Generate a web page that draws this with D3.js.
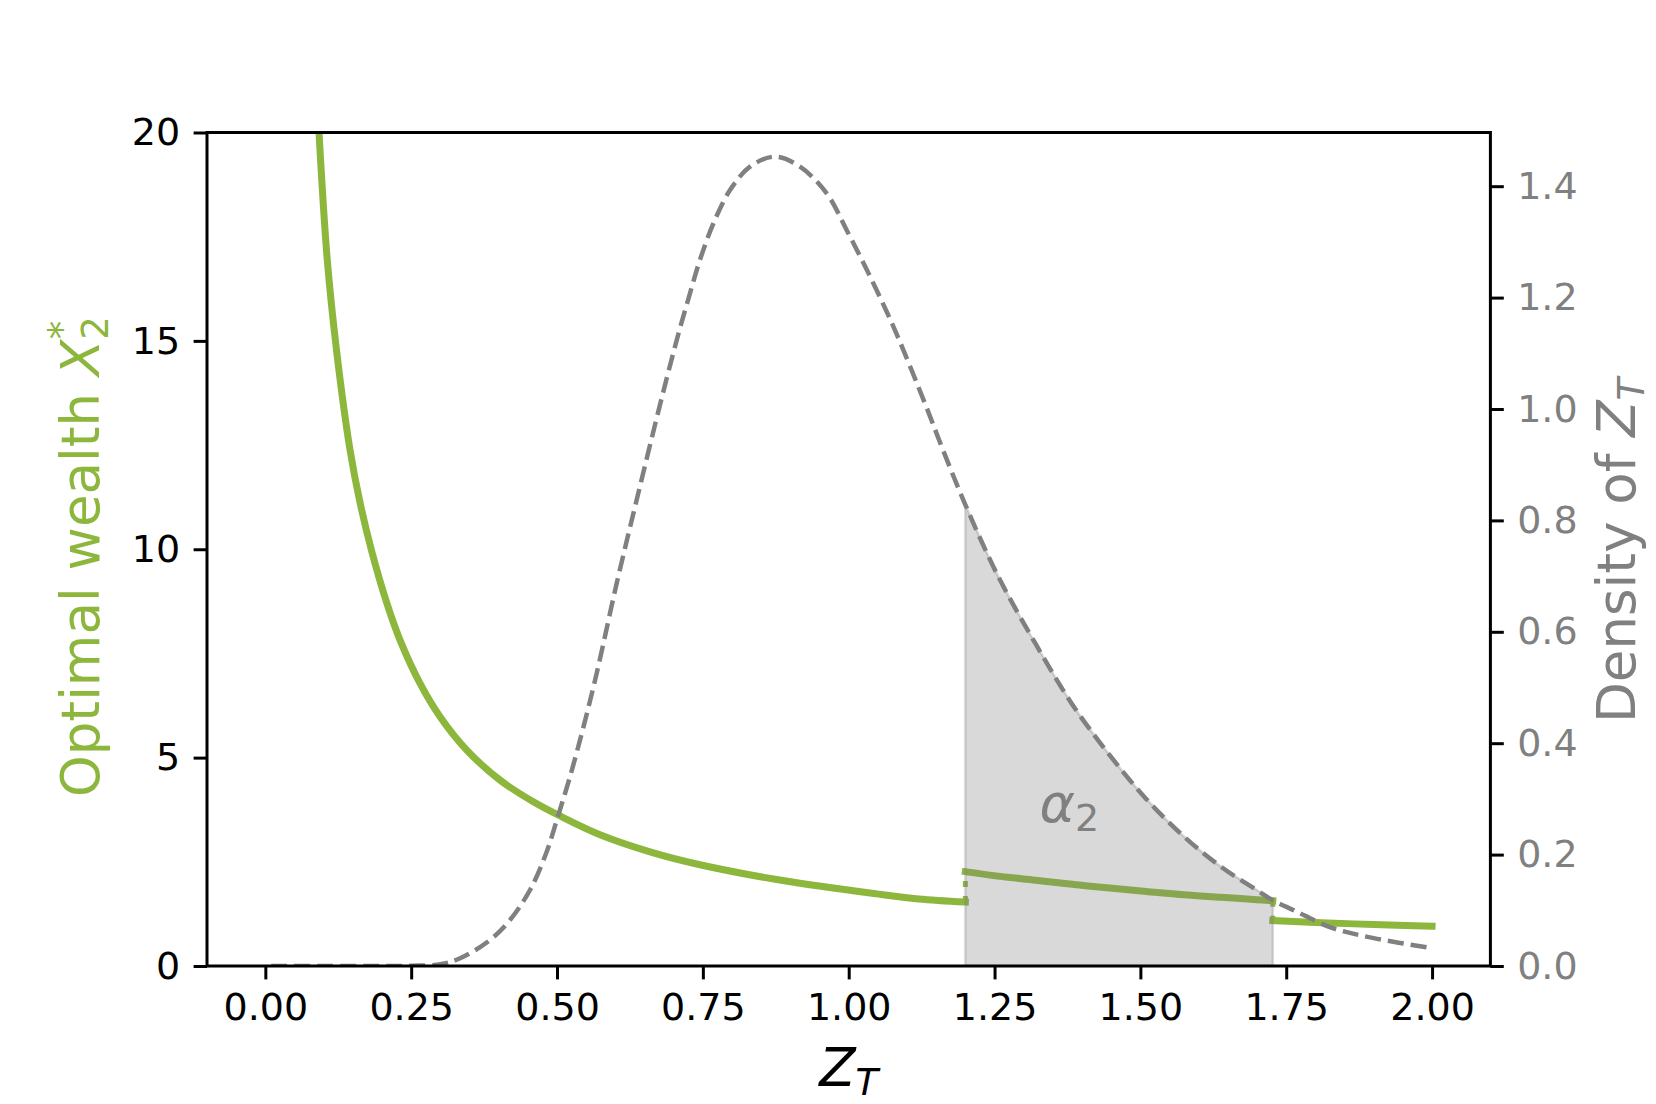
<!DOCTYPE html>
<html>
<head>
<meta charset="utf-8">
<script src="https://cdn.jsdelivr.net/npm/d3@7"></script>
<style>
  body { margin: 0; background: #fff; }
  text { font-family: "DejaVu Sans", sans-serif; }
</style>
</head>
<body>
<div id="chart"></div>
<script>
// optimal wealth X2* (left axis), three pieces with jumps at 1.2 and 1.727
var wealthZ1 = [0.092, 0.106, 0.122, 0.145, 0.1623, 0.1824, 0.208, 0.2309, 0.2652, 0.2995, 0.3452, 0.4023, 0.4594, 0.5051, 0.5737, 0.6594, 0.7451, 0.887, 1.048, 1.12, 1.2];
var wealthX1 = [20.0, 16.97, 14.78, 12.40, 11.12, 9.95, 8.72, 7.82, 6.78, 5.98, 5.18, 4.46, 3.94, 3.6, 3.15, 2.74, 2.43, 2.05, 1.73, 1.61, 1.535];
var wealthZ2 = [1.2, 1.26, 1.32, 1.383, 1.447, 1.51, 1.574, 1.637, 1.7, 1.727];
var wealthX2 = [2.265, 2.15, 2.06, 1.96, 1.87, 1.79, 1.71, 1.65, 1.59, 1.565];
var wealthZ3 = [1.727, 1.8, 1.9, 2.0];
var wealthX3 = [1.09, 1.045, 0.995, 0.955];

// density of Z_T (right axis)
var densityZ = [0.01, 0.1, 0.2, 0.25, 0.3, 0.3338, 0.3852, 0.4194, 0.4537, 0.4823, 0.5022, 0.5223, 0.545, 0.568, 0.6023, 0.6366, 0.68, 0.7084, 0.728, 0.7451, 0.768, 0.7966, 0.8308, 0.8737, 0.9165, 0.9623, 0.9966, 1.031, 1.065, 1.082, 1.13, 1.161, 1.2, 1.256, 1.32, 1.383, 1.447, 1.51, 1.574, 1.637, 1.7, 1.727, 1.764, 1.827, 1.9, 2.0];
var densityY = [0, 0, 0, 0.0005, 0.003, 0.0138, 0.0467, 0.0826, 0.1364, 0.205, 0.271, 0.34, 0.428, 0.5255, 0.687, 0.837, 1.022, 1.136, 1.208, 1.268, 1.333, 1.393, 1.435, 1.453, 1.435, 1.387, 1.321, 1.25, 1.175, 1.135, 1.012, 0.928, 0.828, 0.70, 0.579, 0.47, 0.379, 0.30, 0.233, 0.179, 0.136, 0.118, 0.0996, 0.069, 0.05, 0.032];

var alphaRange = [1.2, 1.727];

var xTicks = [0, 0.25, 0.5, 0.75, 1.0, 1.25, 1.5, 1.75, 2.0];
var yLeftTicks = [0, 5, 10, 15, 20];
var yRightTicks = [0, 0.2, 0.4, 0.6, 0.8, 1.0, 1.2, 1.4];

var green = "#8cb63c";
var grey = "#808080";

var width = 1656, height = 1104;
var margin = {top: 132.5, right: 165.6, bottom: 138, left: 207};

var svg = d3.select("#chart")
  .append("svg")
    .attr("width", width)
    .attr("height", height);

var x = d3.scaleLinear().domain([-0.1, 2.1]).range([margin.left, width - margin.right]);
var yL = d3.scaleLinear().domain([0, 20]).range([height - margin.bottom, margin.top]);
var yR = d3.scaleLinear().domain([0, 1.4964]).range([height - margin.bottom, margin.top]);

svg.append("clipPath").attr("id", "plot")
  .append("rect")
    .attr("x", margin.left).attr("y", margin.top)
    .attr("width", width - margin.left - margin.right)
    .attr("height", height - margin.top - margin.bottom);

var plot = svg.append("g").attr("clip-path", "url(#plot)");

function zip(zs, vs) { return zs.map(function(z, i) { return [z, vs[i]]; }); }

var curve = d3.curveCatmullRom.alpha(0.5);
var wealthLine = d3.line().x(d => x(d[0])).y(d => yL(d[1])).curve(curve);
var densLine = d3.line().x(d => x(d[0])).y(d => yR(d[1])).curve(curve);

// green pieces
[zip(wealthZ1, wealthX1), zip(wealthZ2, wealthX2), zip(wealthZ3, wealthX3)].forEach(function(seg) {
  plot.append("path")
    .attr("d", wealthLine(seg))
    .attr("fill", "none")
    .attr("stroke", green)
    .attr("stroke-width", 7)
    .attr("stroke-linecap", "square");
});

// dotted connectors at the jumps
[[wealthZ1[wealthZ1.length - 1], wealthX1[wealthX1.length - 1], wealthX2[0]],
 [wealthZ2[wealthZ2.length - 1], wealthX2[wealthX2.length - 1], wealthX3[0]]].forEach(function(j) {
  plot.append("line")
    .attr("x1", x(j[0])).attr("x2", x(j[0]))
    .attr("y1", yL(j[1])).attr("y2", yL(j[2]))
    .attr("stroke", green)
    .attr("stroke-width", 5)
    .attr("stroke-dasharray", "6,9");
});

// density, dashed
var dens = zip(densityZ, densityY);
plot.append("path")
  .attr("d", densLine(dens))
  .attr("fill", "none")
  .attr("stroke", grey)
  .attr("stroke-width", 4.5)
  .attr("stroke-dasharray", "16,7");

// shaded area alpha_2
var area = d3.area().x(d => x(d[0])).y0(yR(0)).y1(d => yR(d[1])).curve(curve);
plot.append("path")
  .attr("d", area(dens.filter(d => d[0] >= alphaRange[0] && d[0] <= alphaRange[1])))
  .attr("fill", grey)
  .attr("fill-opacity", 0.3)
  .attr("stroke", grey)
  .attr("stroke-opacity", 0.3)
  .attr("stroke-width", 2.5);

// alpha_2 label
var at = svg.append("text")
  .attr("x", x(1.327)).attr("y", yL(3.45))
  .attr("fill", grey)
  .style("font-size", "54px");
at.append("tspan").style("font-style", "italic").text("α");
at.append("tspan").attr("dy", 9).style("font-size", "38px").text("2");

// axes
function styleAxis(g, color) {
  g.select(".domain").remove();
  g.selectAll(".tick line").attr("stroke", "#000").attr("stroke-width", 3);
  g.selectAll(".tick text").attr("fill", color).style("font-size", "38px").style("font-family", "DejaVu Sans");
}

svg.append("g")
  .attr("transform", "translate(0," + (height - margin.bottom) + ")")
  .call(d3.axisBottom(x).tickValues(xTicks).tickFormat(d3.format(".2f")).tickSize(13.4).tickPadding(13.4).tickSizeOuter(0))
  .call(g => styleAxis(g, "#000"));

svg.append("g")
  .attr("transform", "translate(" + margin.left + ",0)")
  .call(d3.axisLeft(yL).tickValues(yLeftTicks).tickFormat(d3.format("d")).tickSize(13.4).tickPadding(13.4).tickSizeOuter(0))
  .call(g => styleAxis(g, "#000"));

svg.append("g")
  .attr("transform", "translate(" + (width - margin.right) + ",0)")
  .call(d3.axisRight(yR).tickValues(yRightTicks).tickFormat(d3.format(".1f")).tickSize(13.4).tickPadding(13.4).tickSizeOuter(0))
  .call(g => styleAxis(g, grey));

// frame
svg.append("rect")
  .attr("x", margin.left).attr("y", margin.top)
  .attr("width", width - margin.left - margin.right)
  .attr("height", height - margin.top - margin.bottom)
  .attr("fill", "none")
  .attr("stroke", "#000")
  .attr("stroke-width", 3);

// x label Z_T
var xl = svg.append("text")
  .attr("x", (margin.left + width - margin.right) / 2)
  .attr("y", 1086)
  .attr("text-anchor", "middle")
  .style("font-size", "53px");
xl.append("tspan").style("font-style", "italic").text("Z");
xl.append("tspan").attr("dy", 9).style("font-style", "italic").style("font-size", "37px").text("T");

// left label
var yl = svg.append("text")
  .attr("transform", "translate(99,797) rotate(-90)")
  .attr("fill", green)
  .style("font-size", "53px");
yl.append("tspan").text("Optimal wealth ");
yl.append("tspan").style("font-style", "italic").text("X");
yl.append("tspan").attr("dy", 9).style("font-size", "37px").text("2");
yl.append("tspan").attr("dx", -23).attr("dy", -33).style("font-size", "37px").text("*");

// right label
var yr = svg.append("text")
  .attr("transform", "translate(1635,723) rotate(-90)")
  .attr("fill", grey)
  .style("font-size", "53px");
yr.append("tspan").text("Density of ");
yr.append("tspan").style("font-style", "italic").text("Z");
yr.append("tspan").attr("dy", 9).style("font-style", "italic").style("font-size", "37px").text("T");
</script>
</body>
</html>
